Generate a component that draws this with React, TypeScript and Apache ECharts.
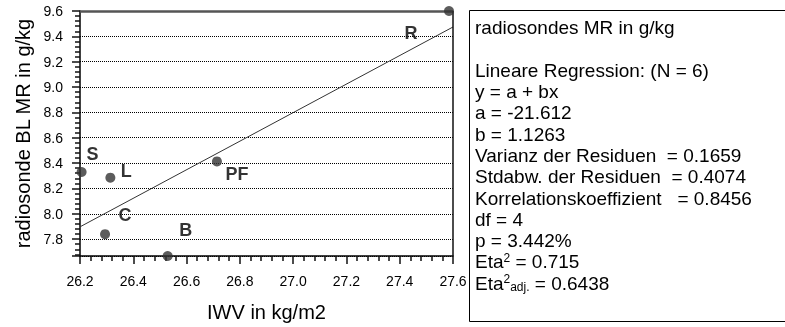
import React, { useEffect, useRef } from "react";
import * as echarts from "echarts";

// measured points (IWV in kg/m2, radiosonde BL MR in g/kg)
const xValues = [26.206, 26.314, 26.294, 26.529, 26.714, 27.585];
const yValues = [8.33, 8.285, 7.839, 7.667, 8.413, 9.6];
const pointNames = ["S", "L", "C", "B", "PF", "R"];

// regression coefficients
const coefA = -21.612;
const coefB = 1.1263;

const xMin = 26.2;
const xMax = 27.6;
const yMax = 9.6;

const statLines = [
  "radiosondes MR in g/kg",
  "",
  "Lineare Regression: (N = 6)",
  "y = a + bx",
  "a = -21.612",
  "b = 1.1263",
  "Varianz der Residuen  = 0.1659",
  "Stdabw. der Residuen  = 0.4074",
  "Korrelationskoeffizient   = 0.8456",
  "df = 4",
  "p = 3.442%",
];
const eta2Value = "0.715";
const eta2AdjValue = "0.6438";

// label placement (layout, px)
const labelOffsets = [
  [11, -18],
  [16, -7],
  [20, -19],
  [18, -26],
  [20, 13],
  [-38, 22],
];

const FONT = "'Liberation Sans', Arial, sans-serif";

export default function App() {
  const ref = useRef<HTMLDivElement>(null);
  useEffect(() => {
    if (!ref.current) return;
    const chart = echarts.init(ref.current, null, { renderer: "svg" });

    const points = xValues.map((x, i) => ({
      value: [x, yValues[i]],
      label: {
        show: true,
        formatter: pointNames[i],
        position: "inside",
        offset: labelOffsets[i],
        color: "#000",
        fontWeight: "bold",
        fontSize: 18,
        fontFamily: FONT,
      },
    }));

    const fitLine = [
      [xMin, coefA + coefB * xMin],
      [xMax, coefA + coefB * xMax],
    ];

    const richLines = statLines.map((l) => `{n|${l === "" ? " " : l}}`);
    richLines.push(`{n|Eta}{sup|2}{n| = ${eta2Value}}`);
    richLines.push(`{n|Eta}{sup|2}{sub|adj.}{n| = ${eta2AdjValue}}`);

    chart.setOption({
      animation: false,
      grid: { left: 80, right: 332, top: 11, bottom: 69 },
      xAxis: {
        type: "value",
        min: xMin,
        max: xMax,
        interval: 0.2,
        name: "IWV in kg/m2",
        nameLocation: "middle",
        nameGap: 46,
        nameTextStyle: { fontSize: 20, color: "#000", fontFamily: FONT },
        axisLine: { show: true, onZero: false, lineStyle: { color: "#000", width: 1.5 } },
        axisTick: { show: true, length: 8, lineStyle: { color: "#111", width: 1.5 } },
        minorTick: { show: true, splitNumber: 5, length: 5, lineStyle: { color: "#111", width: 1.5 } },
        axisLabel: {
          margin: 18,
          fontSize: 14,
          color: "#000",
          fontFamily: FONT,
          formatter: (v: number) => v.toFixed(1),
        },
        splitLine: { show: false },
      },
      yAxis: {
        type: "value",
        min: "dataMin",
        max: "dataMax",
        splitNumber: 10,
        name: "radiosonde BL MR in g/kg",
        nameLocation: "middle",
        nameGap: 47,
        nameTextStyle: { fontSize: 20, color: "#000", fontFamily: FONT },
        axisLine: { show: true, onZero: false, lineStyle: { color: "#000", width: 1.5 } },
        axisTick: { show: true, length: 8, lineStyle: { color: "#111", width: 1.5 } },
        minorTick: { show: true, splitNumber: 5, length: 5, lineStyle: { color: "#111", width: 1.5 } },
        axisLabel: {
          margin: 17,
          fontSize: 14,
          color: "#000",
          fontFamily: FONT,
          formatter: (v: number) =>
            Math.abs(v / 0.2 - Math.round(v / 0.2)) < 1e-6 ? v.toFixed(1) : "",
        },
        splitLine: { show: true, lineStyle: { color: "#000", type: [1, 1], width: 1 } },
      },
      series: [
        {
          type: "line",
          data: fitLine,
          symbol: "none",
          lineStyle: { color: "#333", width: 1 },
          silent: true,
          clip: false,
          markLine: {
            silent: true,
            symbol: "none",
            label: { show: false },
            data: [
              { yAxis: yMax, lineStyle: { color: "#555", width: 2.5, type: "solid" } },
              { xAxis: xMax, lineStyle: { color: "#111", width: 1.5, type: "solid" } },
            ],
          },
        },
        {
          type: "scatter",
          data: points,
          symbol: "circle",
          symbolSize: 10,
          itemStyle: { color: "#333" },
          clip: false,
          z: 5,
        },
      ],
      graphic: [
        {
          type: "rect",
          shape: { x: 469.5, y: 10.5, width: 330, height: 311 },
          style: { fill: "#fff", stroke: "#000", lineWidth: 1 },
        },
        {
          type: "text",
          x: 475,
          y: 17,
          style: {
            text: richLines.join("\n"),
            fontFamily: FONT,
            fill: "#000",
            rich: {
              n: { fontSize: 19, lineHeight: 21.3, fontFamily: FONT, color: "#000" },
              sup: {
                fontSize: 12,
                lineHeight: 21.3,
                fontFamily: FONT,
                color: "#000",
                padding: [0, 0, 8, 0],
              },
              sub: {
                fontSize: 12,
                lineHeight: 21.3,
                fontFamily: FONT,
                color: "#000",
                padding: [8, 0, 0, 0],
              },
            },
          },
        },
      ],
    });
    return () => chart.dispose();
  }, []);
  return (
    <div
      ref={ref}
      style={{ position: "fixed", left: 0, top: 0, width: 785, height: 327 }}
    />
  );
}
